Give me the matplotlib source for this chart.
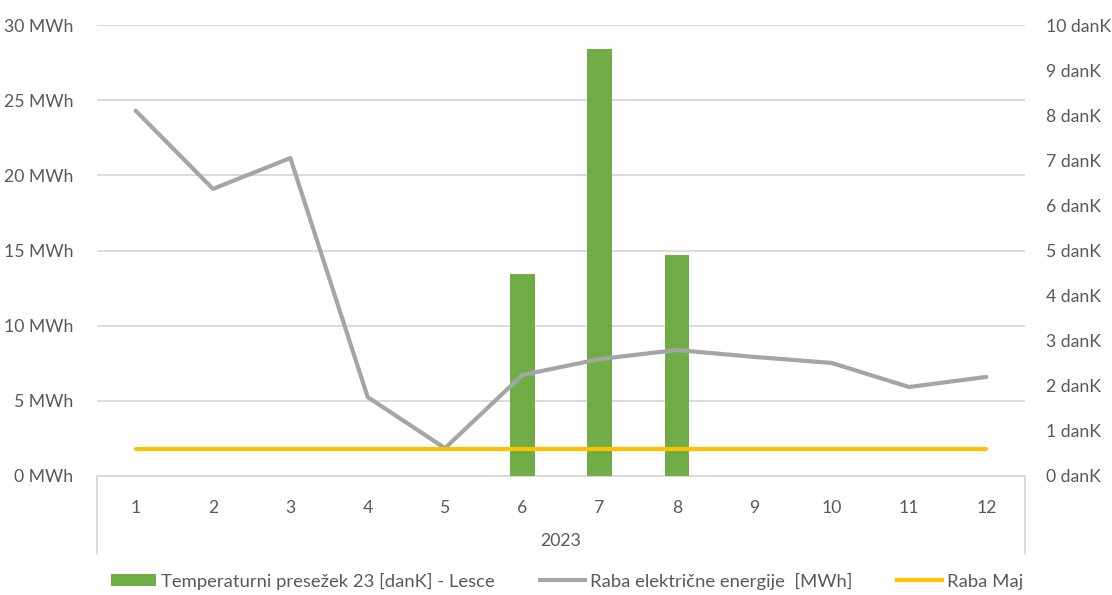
import matplotlib
matplotlib.use("Agg")
import matplotlib.pyplot as plt
from matplotlib.patches import Patch
from matplotlib.lines import Line2D

months = [1, 2, 3, 4, 5, 6, 7, 8, 9, 10, 11, 12]
month_labels = [str(m) for m in months]
year_label = "2023"
temp_excess_dank = [None, None, None, None, None, 4.49, 9.47, 4.89, None, None, None, None]
raba_el_mwh = [24.3, 19.1, 21.15, 5.25, 1.85, 6.72, 7.78, 8.38, 7.92, 7.52, 5.92, 6.59]
raba_maj_mwh = [1.8] * 12
left_ticks = [0, 5, 10, 15, 20, 25, 30]
right_ticks = [0, 1, 2, 3, 4, 5, 6, 7, 8, 9, 10]

name_bars = "Temperaturni presežek 23 [danK] - Lesce"
name_el = "Raba električne energije  [MWh]"
name_maj = "Raba Maj"

GREEN = "#70AD47"
GRAY = "#A5A5A5"
YELLOW = "#FFC000"
TXT = "#595959"
GRID = "#D9D9D9"

plt.rcParams['font.family'] = ['Lato', 'DejaVu Sans']
FS = 12.7
LFS = 13.3

fig = plt.figure(figsize=(11.12, 5.95), dpi=100)
rect = [97 / 1112, 1 - 476 / 595, (1025 - 97) / 1112, (476 - 25) / 595]
ax = fig.add_axes(rect)
ax.set_xlim(0.5, 12.5)
ax.set_ylim(0, 30)
ax.set_yticks(left_ticks)
ax.set_yticklabels([f"{v} MWh" for v in left_ticks], fontsize=FS, color=TXT)
ax.set_xticks(months)
ax.set_xticklabels(month_labels, fontsize=FS, color=TXT)
ax.tick_params(axis='both', length=0)
ax.tick_params(axis='y', pad=17)
ax.tick_params(axis='x', pad=17)
ax.grid(axis='y', color=GRID, linewidth=1.3)
ax.set_axisbelow(True)
for s in ['top', 'right', 'left']:
    ax.spines[s].set_visible(False)
ax.spines['bottom'].set_color(GRID)
ax.spines['bottom'].set_linewidth(1.3)

# category box separators
box_h = (553 - 476) / 451
for xa in (0, 1):
    ax.add_line(Line2D([xa, xa], [0, -box_h], transform=ax.transAxes,
                       color=GRID, linewidth=1.3, clip_on=False))
ax.text(0.5, -(541 - 476) / 451, year_label, transform=ax.transAxes,
        ha='center', va='center', fontsize=FS, color=TXT)

# bars on right axis
ax2 = ax.twinx()
ax2.set_ylim(0, 10)
ax2.set_yticks(right_ticks)
ax2.set_yticklabels([f"{v} danK" for v in right_ticks], fontsize=FS, color=TXT)
ax2.tick_params(axis='y', length=0, pad=15)
for s in ax2.spines.values():
    s.set_visible(False)
bx = [m for m, v in zip(months, temp_excess_dank) if v is not None]
bv = [v for v in temp_excess_dank if v is not None]
ax2.bar(bx, bv, width=0.315, color=GREEN)

# lines on left scale, drawn on top
ax3 = ax.twinx()
ax3.set_ylim(ax.get_ylim())
ax3.set_yticks([])
for s in ax3.spines.values():
    s.set_visible(False)
ax3.plot(months, raba_el_mwh, color=GRAY, linewidth=3.0, solid_capstyle='round',
         solid_joinstyle='round')
ax3.plot(months, raba_maj_mwh, color=YELLOW, linewidth=3.0, solid_capstyle='round')

handles = [Patch(facecolor=GREEN, edgecolor='none'),
           Line2D([], [], color=GRAY, linewidth=3.0),
           Line2D([], [], color=YELLOW, linewidth=3.0)]
leg = fig.legend(handles, [name_bars, name_el, name_maj], loc='center',
                 bbox_to_anchor=(567 / 1112, 1 - 581 / 595), ncol=3, frameon=False,
                 fontsize=LFS, handlelength=2.43, handleheight=0.55,
                 handletextpad=0.27, columnspacing=2.43, labelcolor=TXT)

fig.savefig("out.png", dpi=100)
